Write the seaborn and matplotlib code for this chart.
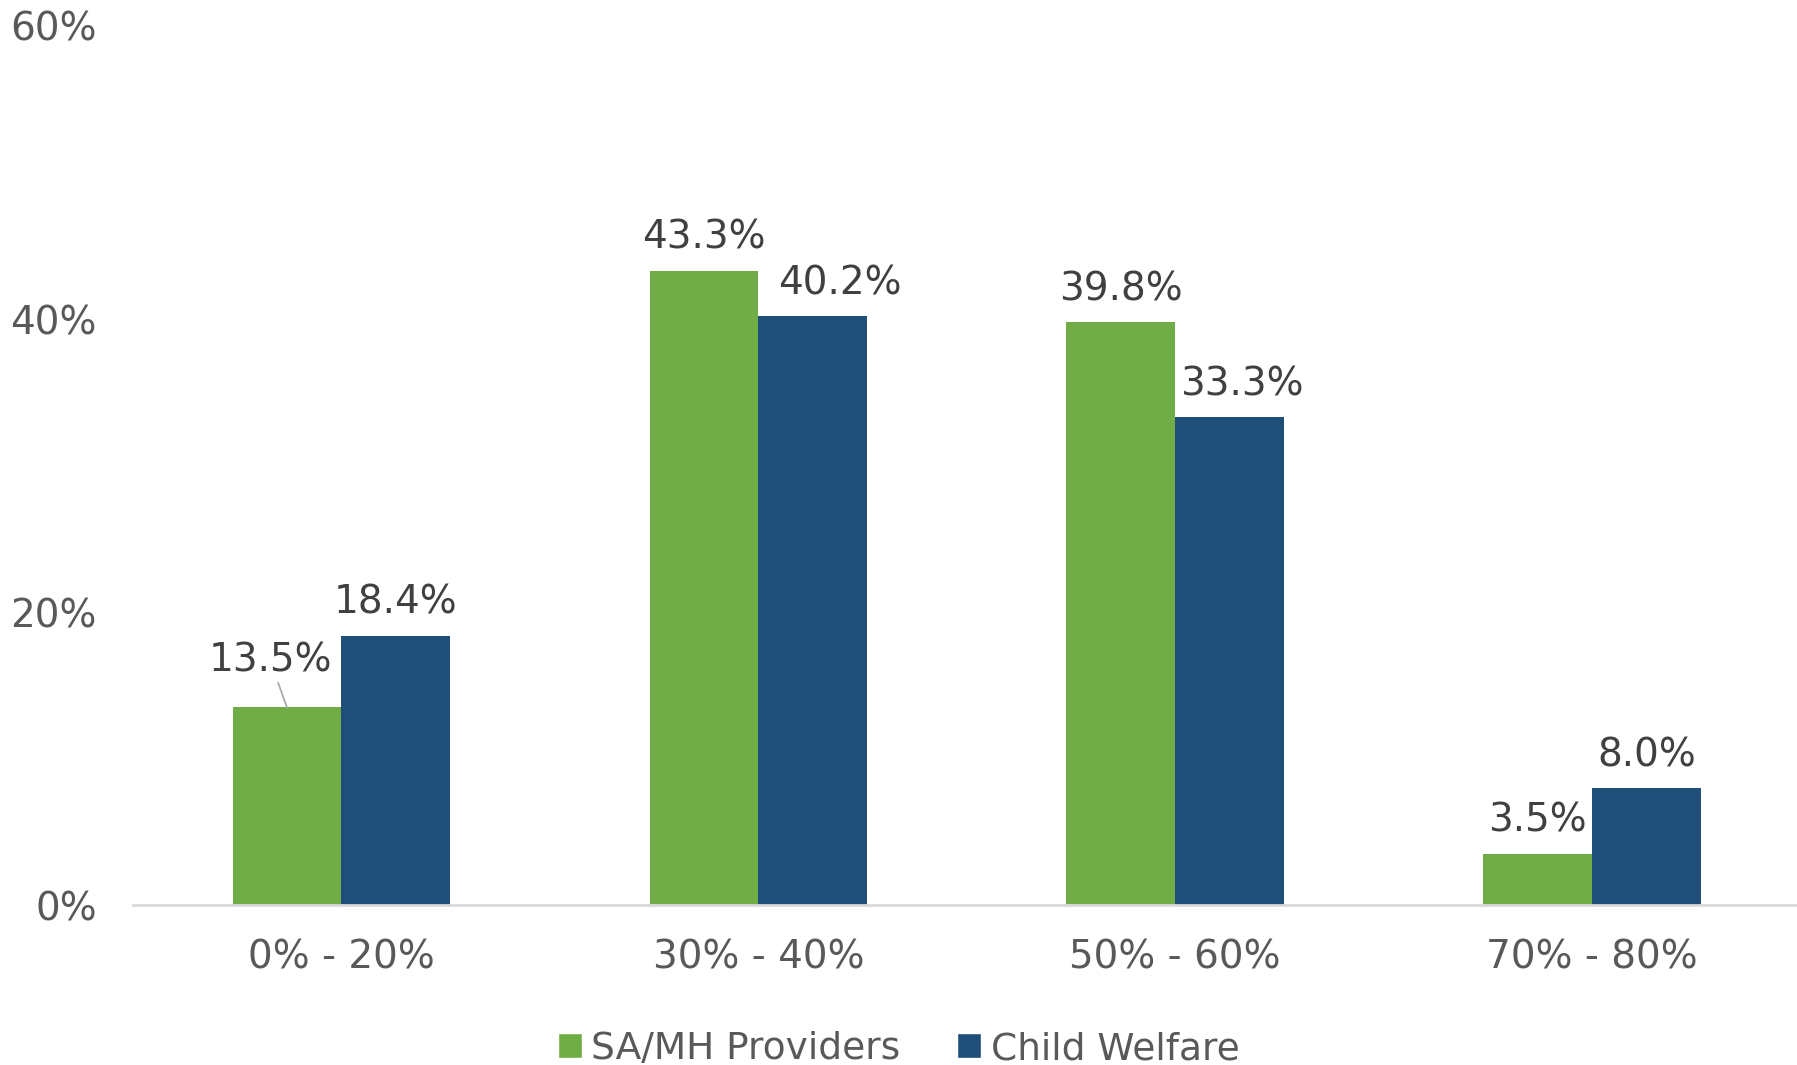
import pandas as pd
import matplotlib.pyplot as plt
import seaborn as sns
from matplotlib.patches import Patch

# data
categories = ["0% - 20%", "30% - 40%", "50% - 60%", "70% - 80%"]
series = ["SA/MH Providers", "Child Welfare"]
sa_mh = [13.5, 43.3, 39.8, 3.5]
child_welfare = [18.4, 40.2, 33.3, 8.0]
colors = ["#70AD47", "#1F4E79"]

df = pd.DataFrame({
    "Range": categories * 2,
    "Group": [series[0]] * 4 + [series[1]] * 4,
    "Value": sa_mh + child_welfare,
})

sns.set_style("white")
plt.rcParams["font.family"] = ["DejaVu Sans"]

fig = plt.figure(figsize=(17.97, 10.65), dpi=100)
ax = fig.add_axes([0.074, 0.150, 0.928, 0.8256])

sns.barplot(data=df, x="Range", y="Value", hue="Group", palette=colors,
            width=0.522, saturation=1, legend=False, linewidth=0, ax=ax)

ax.set_ylim(0, 60)
ax.set_xlim(-0.5, 3.5)
ax.set_yticks([0, 20, 40, 60])
ax.set_yticklabels(["0%", "20%", "40%", "60%"])
ax.set_xlabel("")
ax.set_ylabel("")
ax.tick_params(axis="y", length=0, pad=26, labelsize=28, labelcolor="#595959")
ax.tick_params(axis="x", length=0, pad=24, labelsize=28, labelcolor="#595959")
for s in ["top", "right", "left"]:
    ax.spines[s].set_visible(False)
ax.spines["bottom"].set_color("#D9D9D9")
ax.spines["bottom"].set_linewidth(2)

# value labels (some nudged sideways like the original), key = (series, category)
offsets = {(0, 0): (-17, 47), (1, 1): (27, 33), (1, 2): (12, 33)}
for i, cont in enumerate(ax.containers):
    for j, bar in enumerate(cont):
        h = bar.get_height()
        x = bar.get_x() + bar.get_width() / 2
        dx, dy = offsets.get((i, j), (0, 33))
        if (i, j) == (0, 0):
            ax.annotate(f"{h:.1f}%", xy=(x, h), xytext=(dx, dy), textcoords="offset pixels",
                        ha="center", va="center", fontsize=28, color="#404040",
                        arrowprops=dict(arrowstyle="-", color="#A6A6A6", lw=1.2,
                                        shrinkA=20, shrinkB=0))
        else:
            ax.annotate(f"{h:.1f}%", xy=(x, h), xytext=(dx, dy), textcoords="offset pixels",
                        ha="center", va="center", fontsize=28, color="#404040")

handles = [Patch(facecolor=c, label=s) for c, s in zip(colors, series)]
fig.legend(handles=handles, loc="center", bbox_to_anchor=(0.5, 0.015), ncol=2,
           frameon=False, fontsize=27, labelcolor="#595959",
           handlelength=0.65, handleheight=0.65, handletextpad=0.25, columnspacing=1.5)

fig.savefig("out.png", dpi=100)
